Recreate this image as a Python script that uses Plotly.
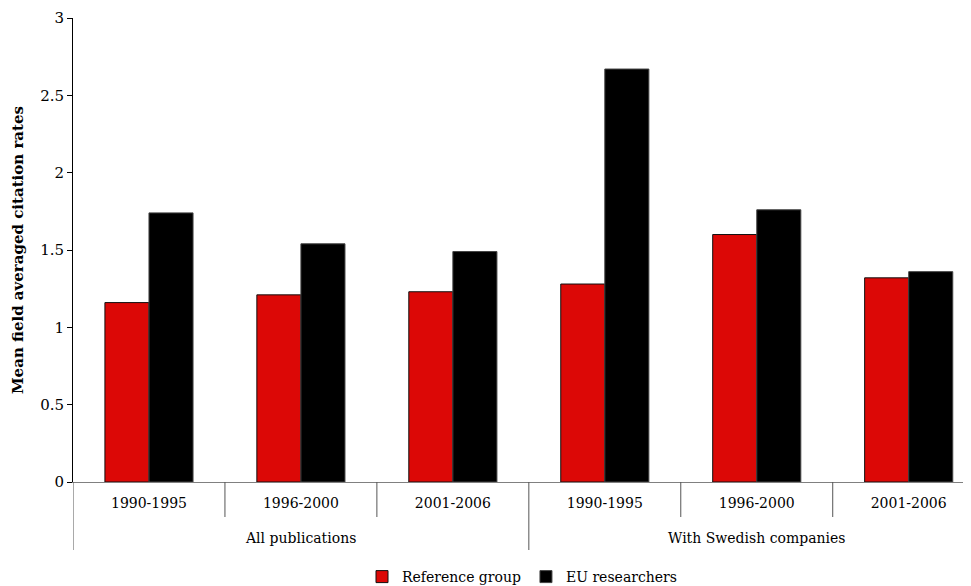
import plotly.graph_objects as go

groups = ["All publications"] * 3 + ["With Swedish companies"] * 3
periods = ["1990-1995", "1996-2000", "2001-2006"] * 2
reference_group = [1.16, 1.21, 1.23, 1.28, 1.60, 1.32]
eu_researchers = [1.74, 1.54, 1.49, 2.67, 1.76, 1.36]
y_ticks = [0, 0.5, 1, 1.5, 2, 2.5, 3]

FONT = "DejaVu Serif"
# the page body has an 8px margin, so the figure is sized to fit the 971x586 window
FIG_W, FIG_H = 963, 578
M_L, M_T, M_B, M_R = 65, 10, 104, 0
PLOT_H = FIG_H - M_T - M_B

idx = list(range(len(periods)))

fig = go.Figure()
fig.add_trace(go.Bar(
    x=idx, y=reference_group, name="Reference group",
    marker=dict(color="#dc0806", line=dict(color="#111111", width=1)),
))
fig.add_trace(go.Bar(
    x=idx, y=eu_researchers, name="EU researchers",
    marker=dict(color="#000000", line=dict(color="#444444", width=1)),
))

# category separators (inner: short, at group boundaries: long)
shapes = []
for k in range(len(periods) + 1):
    boundary = k - 0.5
    is_group_edge = k == 0 or k == len(periods) or groups[k] != groups[k - 1]
    length = 68 if is_group_edge else 35
    shapes.append(dict(type="line", xref="x", yref="paper",
                       x0=boundary, x1=boundary, y0=0, y1=-length / PLOT_H,
                       line=dict(color="#555555", width=1)))

annotations = []
seen = []
for g in groups:
    if g not in seen:
        seen.append(g)
for g in seen:
    members = [i for i, gg in enumerate(groups) if gg == g]
    annotations.append(dict(text=g, xref="x", yref="paper",
                            x=sum(members) / len(members), y=-56 / PLOT_H,
                            xanchor="center", yanchor="middle", showarrow=False,
                            font=dict(family=FONT, size=14, color="black")))

fig.update_layout(
    width=FIG_W, height=FIG_H,
    margin=dict(l=M_L, r=M_R, t=M_T, b=M_B, autoexpand=False),
    paper_bgcolor="white", plot_bgcolor="white",
    barmode="group", bargap=0.42, bargroupgap=0,
    font=dict(family=FONT, size=14, color="black"),
    legend=dict(orientation="h", x=0.5, xanchor="center", y=-95 / PLOT_H, yanchor="middle",
                font=dict(family=FONT, size=14, color="black"),
                tracegroupgap=0),
    shapes=shapes,
    annotations=annotations,
    xaxis=dict(
        range=[-0.5, 5.41],
        tickvals=idx, ticktext=periods, ticks="",
        showline=True, linecolor="#808080", linewidth=1,
        tickfont=dict(family=FONT, size=14, color="black"),
        ticklabelstandoff=8,
        showgrid=False, zeroline=False, automargin=False,
    ),
    yaxis=dict(
        range=[0, 3], tickvals=y_ticks, ticktext=[f"{v:g}" for v in y_ticks],
        showline=True, linecolor="black", linewidth=1,
        ticks="outside", ticklen=5, tickcolor="black",
        showgrid=False, zeroline=False, automargin=False,
        tickfont=dict(family=FONT, size=15, color="black"),
        title=dict(text="Mean field averaged citation rates", standoff=12,
                   font=dict(family=FONT, size=15, color="black", weight="bold")),
    ),
)

fig.write_html("out.html")
